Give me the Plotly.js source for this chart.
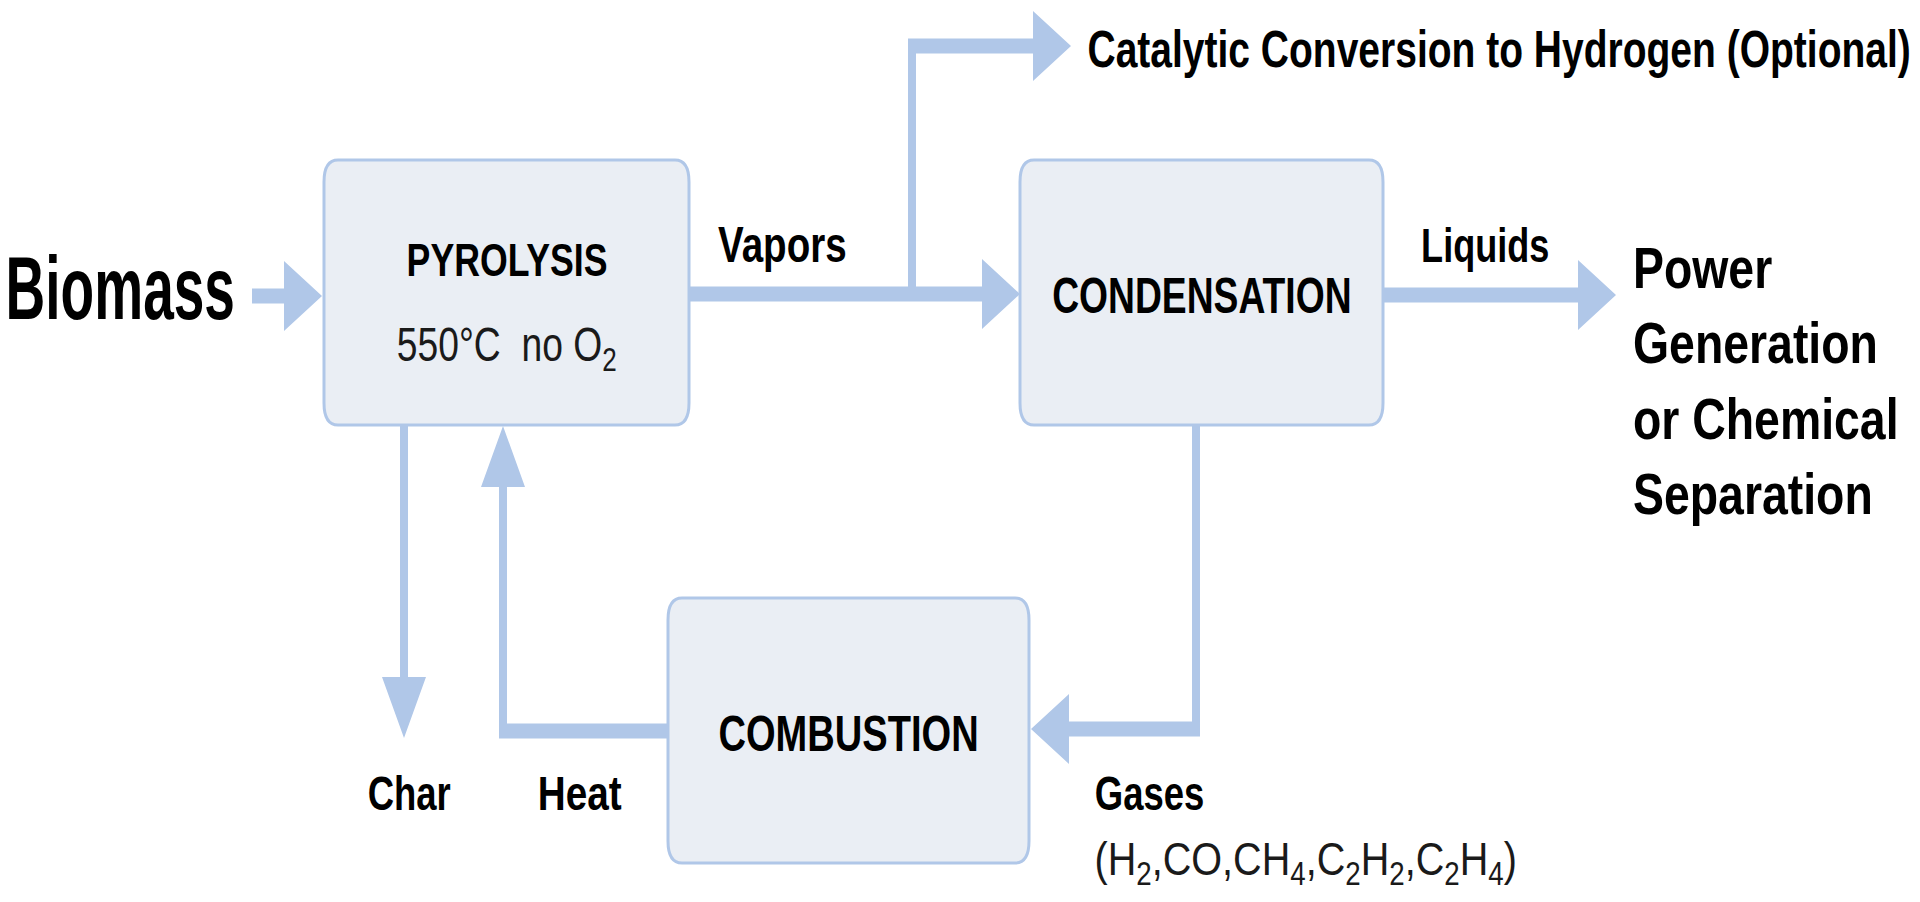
<!DOCTYPE html>
<html><head><meta charset="utf-8">
<script src="https://cdn.plot.ly/plotly-3.0.1.min.js"></script>
<style>html,body{margin:0;padding:0;background:#fff;overflow:hidden}</style>
</head><body><div id="chart" style="width:1920px;height:902px"></div>
<script>
// ---- Process boxes ----
const boxTitles = ['PYROLYSIS', 'CONDENSATION', 'COMBUSTION'];
const boxSubtitles = ['550°C  no O<sub>2</sub>', '', ''];
const boxLeft   = [324, 1020, 668];
const boxRight  = [689, 1383, 1029];
const boxTop    = [160, 160, 598];
const boxBottom = [425, 425, 863];

// ---- Flow arrows: polylines, the last point is the arrow tip ----
const flowNames = ['biomass', 'vapors', 'catalytic', 'liquids', 'gases', 'heat', 'char'];
const flowX = [[252, 322], [686, 1020], [912, 912, 1071], [1383, 1616], [1196, 1196, 1031], [668, 503, 503], [404, 404]];
const flowY = [[296, 296], [294, 294], [294, 46, 46], [295, 295], [425, 729, 729], [731, 731, 426], [425, 738]];

// ---- Free labels ----
const labelText = ['Biomass', 'Vapors', 'Catalytic Conversion to Hydrogen (Optional)', 'Liquids',
  'Power<br>Generation<br>or Chemical<br>Separation', 'Gases',
  '(H<sub>2</sub>,CO,CH<sub>4</sub>,C<sub>2</sub>H<sub>2</sub>,C<sub>2</sub>H<sub>4</sub>)', 'Heat', 'Char'];
const labelX = [120, 782, 1499, 1485, 1631, 1149, 1306, 580, 409];
const labelY = [288, 244, 48, 245, 380, 793, 862, 793, 793];

// ---- styling ----
const ARROW = '#B0C7E8';
const FILL = '#EAEEF4';
const FONT = '"Liberation Sans", Arial, sans-serif';
const HT = 15, VT = 8;           // shaft thickness horizontal / vertical
const HL = 38, HW = 35;          // head for horizontal arrows
const VL = 61, VW = 22;          // head for vertical arrows

const px = [], py = [];
function poly(xs, ys) { xs.forEach((v, i) => { px.push(v); py.push(ys[i]); }); px.push(null); py.push(null); }

flowX.forEach((xs, k) => {
  const ys = flowY[k];
  const n = xs.length;
  const tx = xs[n - 1], ty = ys[n - 1];
  const horizLast = ys[n - 2] === ty;
  let bx = tx, by = ty;
  if (horizLast) {
    const d = Math.sign(tx - xs[n - 2]);
    bx = tx - d * HL;
    poly([tx, bx, bx, tx], [ty, ty - HW, ty + HW, ty]);
  } else {
    const d = Math.sign(ty - ys[n - 2]);
    by = ty - d * VL;
    poly([tx, tx - VW, tx + VW, tx], [ty, by, by, ty]);
  }
  for (let i = 0; i < n - 1; i++) {
    let xa = xs[i], ya = ys[i], xb = xs[i + 1], yb = ys[i + 1];
    if (i === n - 2) { xb = bx; yb = by; }
    if (ya === yb) {
      let x0 = Math.min(xa, xb), x1 = Math.max(xa, xb);
      if (i > 0) { if (xa < xb) x0 -= VT / 2; else x1 += VT / 2; }
      if (i < n - 2) { if (xb > xa) x1 += VT / 2; else x0 -= VT / 2; }
      poly([x0, x1, x1, x0, x0], [ya - HT / 2, ya - HT / 2, ya + HT / 2, ya + HT / 2, ya - HT / 2]);
    } else {
      let y0 = Math.min(ya, yb), y1 = Math.max(ya, yb);
      if (i > 0) { if (ya < yb) y0 -= HT / 2; else y1 += HT / 2; }
      if (i < n - 2) { if (yb > ya) y1 += HT / 2; else y0 -= HT / 2; }
      poly([xa - VT / 2, xa + VT / 2, xa + VT / 2, xa - VT / 2, xa - VT / 2], [y0, y0, y1, y1, y0]);
    }
  }
});

const traces = [{
  type: 'scatter', mode: 'lines', x: px, y: py, fill: 'toself', fillcolor: ARROW,
  line: { width: 0, color: ARROW }, hoverinfo: 'skip', showlegend: false
}];

function roundRect(l, r, t, b, rx, ry) {
  return `M ${l + rx},${t} L ${r - rx},${t} Q ${r},${t} ${r},${t + ry} L ${r},${b - ry} Q ${r},${b} ${r - rx},${b} ` +
         `L ${l + rx},${b} Q ${l},${b} ${l},${b - ry} L ${l},${t + ry} Q ${l},${t} ${l + rx},${t} Z`;
}
const shapes = boxTitles.map((t, i) => ({
  type: 'path', xref: 'x', yref: 'y', layer: 'above',
  path: roundRect(boxLeft[i], boxRight[i], boxTop[i], boxBottom[i], 14, 22),
  fillcolor: FILL, line: { color: ARROW, width: 3 }
}));

// annotations + condensing factors for each (mimics the tall condensed typeface)
const annotations = [];
const squeeze = [];
const stretch = [];
const origin = [];
const boxTitleSize = [43, 46, 47];
boxTitles.forEach((t, i) => {
  const cx = (boxLeft[i] + boxRight[i]) / 2;
  const cy = (boxTop[i] + boxBottom[i]) / 2;
  const hasSub = boxSubtitles[i] !== '';
  annotations.push({ x: cx, y: hasSub ? cy - 33 : cy + 3, xref: 'x', yref: 'y', text: t, showarrow: false,
    xanchor: 'center', yanchor: 'middle', font: { family: FONT, size: boxTitleSize[i], color: '#000', weight: 'bold' } });
  squeeze.push(i === 0 ? 0.83 : 0.81); stretch.push(1.08); origin.push('center');
  if (hasSub) {
    annotations.push({ x: cx, y: cy + 55, xref: 'x', yref: 'y', text: boxSubtitles[i], showarrow: false,
      xanchor: 'center', yanchor: 'middle', font: { family: FONT, size: 46, color: '#1a1a1a' } });
    squeeze.push(0.81); stretch.push(1.06); origin.push('center');
  }
});
const labelSize = [86, 47, 47, 44, 58, 45, 44, 45, 45];
const labelWeight = ['bold', 'bold', 'bold', 'bold', 'bold', 'bold', 'normal', 'bold', 'bold'];
const labelSqueeze = [0.64, 0.82, 0.83, 0.82, 0.8, 0.81, 0.9, 0.86, 0.81];
const labelStretch = [1.03, 1.08, 1.1, 1.08, 1.0, 1.08, 1.06, 1.08, 1.08];
labelText.forEach((t, i) => {
  const left = i === 4;
  annotations.push({ x: labelX[i], y: labelY[i], xref: 'x', yref: 'y', text: t, showarrow: false,
    xanchor: left ? 'left' : 'center', yanchor: 'middle', align: left ? 'left' : 'center',
    font: { family: FONT, size: labelSize[i], color: labelWeight[i] === 'bold' ? '#000' : '#1a1a1a', weight: labelWeight[i] } });
  squeeze.push(labelSqueeze[i]); stretch.push(labelStretch[i]); origin.push(left ? 'left center' : 'center');
});

const layout = {
  width: 1920, height: 902, margin: { l: 0, r: 0, t: 0, b: 0 },
  paper_bgcolor: '#fff', plot_bgcolor: '#fff',
  xaxis: { range: [0, 1920], visible: false, fixedrange: true },
  yaxis: { range: [902, 0], visible: false, fixedrange: true },
  shapes, annotations, showlegend: false
};
Plotly.newPlot('chart', traces, layout, { staticPlot: true, displayModeBar: false }).then(gd => {
  gd.querySelectorAll('g.annotation').forEach(g => {
    const idx = +g.getAttribute('data-index');
    const txt = g.querySelector('text.annotation-text');
    if (!txt || isNaN(idx)) return;
    txt.style.transformBox = 'fill-box';
    txt.style.transformOrigin = origin[idx];
    txt.style.transform = `scale(${squeeze[idx]}, ${stretch[idx]})`;
  });
});
</script></body></html>
